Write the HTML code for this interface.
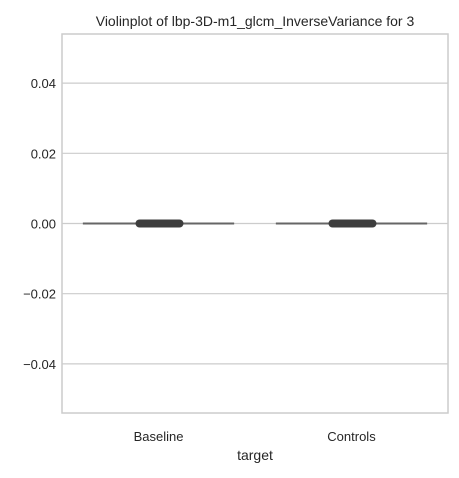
<!DOCTYPE html>
<html><head><meta charset="utf-8"><style>
body{margin:0;background:#fff;font-family:"Liberation Sans",sans-serif;}
</style></head><body>
<svg id="chart" width="459" height="473" font-family="Liberation Sans, sans-serif"></svg>
<script>
const categories=["Baseline","Controls"];
const yTicks=[0.04,0.02,0.00,-0.02,-0.04];
const yTickLabels=["0.04","0.02","0.00","\u22120.02","\u22120.04"];
const pointMin=[0,0];
const pointMax=[0,0];
const L=62,R=448,T=34,B=413,yMin=-0.054,yMax=0.054;
const ns="http://www.w3.org/2000/svg";
const svg=document.getElementById('chart');
function y(v){return B-(v-yMin)/(yMax-yMin)*(B-T);}
function x(i){return L+(R-L)*(i+0.5)/categories.length;}
function mk(t,a,p){const e=document.createElementNS(ns,t);for(const k in a)e.setAttribute(k,a[k]);(p||svg).appendChild(e);return e;}
let t=mk('text',{x:255,y:26,'text-anchor':'middle','font-size':14,fill:'#262626'});


t.textContent='Violinplot of lbp-3D-m1_glcm_InverseVariance for 3';
yTicks.forEach((v,i)=>{
 let g=mk('line',{x1:L,x2:R,y1:y(v),y2:y(v),stroke:'#cccccc','stroke-width':1.2});
 
 
 let l=mk('text',{x:L-6,y:y(v)+5,'text-anchor':'end','font-size':13,fill:'#262626'});
 
 
 l.textContent=yTickLabels[i];
});
let fr=mk('rect',{x:L,y:T,width:R-L,height:B-T,fill:'none',stroke:'#cccccc','stroke-width':1.5});


const half=(R-L)/categories.length*0.4;
categories.forEach((c,i)=>{
 const cx=x(i);
 let ln=mk('line',{x1:cx-half*0.98,x2:cx+half*0.98,y1:y(0),y2:y(0),stroke:'#666','stroke-width':2});
 
 
 let pts=mk('line',{x1:cx-19+ (pointMin[i])*3500,x2:cx+21+(pointMax[i])*3500,y1:y(0),y2:y(0),stroke:'#3d3d3d','stroke-width':8,'stroke-linecap':'round'});
 
 
 let lb=mk('text',{x:cx,y:441,'text-anchor':'middle','font-size':13,fill:'#262626'});
 
 
 lb.textContent=c;
});
let xt=mk('text',{x:255,y:460,'text-anchor':'middle','font-size':14,fill:'#262626'});


xt.textContent='target';
</script>
</body></html>
